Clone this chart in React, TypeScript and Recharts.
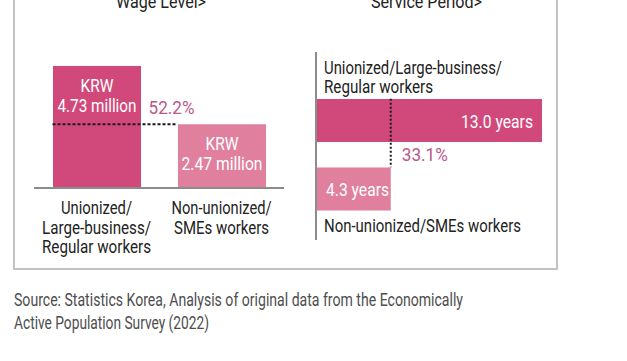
import React from 'react';
import { BarChart, Bar, XAxis, YAxis, Cell, ReferenceLine } from 'recharts';

// ---------- data ----------
const wageCategories = ['Unionized/Large-business/Regular workers', 'Non-unionized/SMEs workers'];
const wageValues = [4.73, 2.47];
const wageValueLines = [['KRW', '4.73 million'], ['KRW', '2.47 million']];
const wageTickLines = [['Unionized/', 'Large-business/', 'Regular workers'], ['Non-unionized/', 'SMEs workers']];
const wageRatioLabel = '52.2%';

const tenureCategories = ['Unionized/Large-business/Regular workers', 'Non-unionized/SMEs workers'];
const tenureValues = [13.0, 4.3];
const tenureValueLabels = ['13.0 years', '4.3 years'];
const tenureNameLines = [['Unionized/Large-business/', 'Regular workers'], ['Non-unionized/SMEs workers']];
const tenureRatioLabel = '33.1%';

const panelTitles = ['Wage Level>', 'Service Period>'];
const sourceLines = [
  'Source: Statistics Korea, Analysis of original data from the Economically',
  'Active Population Survey (2022)',
];

// ---------- style ----------
const BAR_COLORS = ['#d1497a', '#e07f9e'];
const RATIO_COLOR = '#bb578a';
const TEXT_COLOR = '#222';
const FONT = 'Roboto, "Noto Sans", sans-serif';
const WIDTHS: Record<string, number> = {
  'Wage Level>': 90,
  'Service Period>': 111,
  KRW: 33,
  '4.73 million': 79,
  '2.47 million': 81,
  '52.2%': 46,
  'Unionized/': 71,
  'Large-business/': 109,
  'Regular workers': 109,
  'Non-unionized/': 100,
  'SMEs workers': 95,
  'Unionized/Large-business/': 178,
  '13.0 years': 72,
  '33.1%': 46,
  '4.3 years': 63,
  'Non-unionized/SMEs workers': 197,
  [sourceLines[0]]: 449,
  [sourceLines[1]]: 195,
};

const T = ({ x, y, text, size = 18, fill = TEXT_COLOR, anchor = 'start' }: any) => (
  <text
    x={x}
    y={y}
    fontSize={size}
    fontFamily={FONT}
    fill={fill}
    textAnchor={anchor}
    textLength={WIDTHS[text]}
    lengthAdjust="spacingAndGlyphs"
  >
    {text}
  </text>
);

const wageData = wageCategories.map((name, i) => ({ name, value: wageValues[i] }));
const tenureData = tenureCategories.map((name, i) => ({ name, value: tenureValues[i] }));

const WAGE_BAR = 88;
const TENURE_BAR = 43;

const WageShape = (p: any) => {
  const { x, y, width, height, index } = p;
  const cx = x + width / 2;
  const lines = wageValueLines[index];
  return (
    <g>
      <rect x={x} y={y} width={width} height={height} fill={BAR_COLORS[index]} />
      <T x={cx} y={y + 26} text={lines[0]} size={17.5} fill="#fff" anchor="middle" />
      <T x={cx} y={y + 46} text={lines[1]} size={17.5} fill="#fff" anchor="middle" />
    </g>
  );
};

const WageTick = (p: any) => {
  const { x, y, index } = p;
  const lines = wageTickLines[index] || [];
  return (
    <g>
      {lines.map((l, i) => (
        <T key={i} x={x} y={y + 24 + i * 19.7} text={l} size={18} anchor="middle" />
      ))}
    </g>
  );
};

const WageRatioLine = (p: any) => {
  const { x1, y1, x2 } = p;
  const half = WAGE_BAR / 2;
  return (
    <g>
      <line x1={x1 - half} y1={y1} x2={x2 - half} y2={y1} stroke="#1a1a1a" strokeWidth={2} strokeDasharray="3 2" />
      <T x={x1 + half + 8} y={y1 - 10} text={wageRatioLabel} size={17.5} fill={RATIO_COLOR} />
    </g>
  );
};

const TenureShape = (p: any) => {
  const { x, y, width, height, index } = p;
  const cy = y + height / 2;
  const names = tenureNameLines[index];
  return (
    <g>
      <rect x={x} y={y} width={width} height={height} fill={BAR_COLORS[index]} />
      {index === 0 ? (
        <>
          <T x={x + 8} y={y - 25} text={names[0]} size={18} />
          <T x={x + 8} y={y - 6} text={names[1]} size={18} />
          <T x={x + width - 9} y={cy + 7} text={tenureValueLabels[index]} size={18} fill="#fff" anchor="end" />
        </>
      ) : (
        <>
          <T x={x + 10} y={cy + 7} text={tenureValueLabels[index]} size={18} fill="#fff" />
          <T x={x + 8} y={y + height + 21} text={names[0]} size={18} />
        </>
      )}
    </g>
  );
};

const TenureRatioLine = (p: any) => {
  const { x1, y1, y2 } = p;
  const half = TENURE_BAR / 2;
  return (
    <g>
      <line x1={x1} y1={y1 - half} x2={x1} y2={y2 - half} stroke="#1a1a1a" strokeWidth={2} strokeDasharray="2 2" />
      <T x={x1 + 11} y={y2 - half - 6} text={tenureRatioLabel} size={17.5} fill={RATIO_COLOR} />
    </g>
  );
};

export default function App() {
  return (
    <div
      style={{
        position: 'absolute',
        left: 0,
        top: 0,
        width: 627,
        height: 361,
        background: '#fff',
        overflow: 'hidden',
      }}
    >
      <div
        style={{
          position: 'absolute',
          left: 13,
          top: -10,
          width: 541,
          height: 276,
          border: '2px solid #c2c2c2',
        }}
      />
      <svg width={627} height={361} style={{ position: 'absolute', left: 0, top: 0 }}>
        <T x={161} y={8} text={panelTitles[0]} size={18} anchor="middle" />
        <T x={426.5} y={8} text={panelTitles[1]} size={18} anchor="middle" />
        <T x={14} y={305.5} text={sourceLines[0]} size={18.5} fill="#4d4d4d" />
        <T x={14} y={328.5} text={sourceLines[1]} size={18.5} fill="#4d4d4d" />
      </svg>

      <div style={{ position: 'absolute', left: 0, top: 0 }}>
        <BarChart width={300} height={270} data={wageData} margin={{ top: 59, right: 16, left: 34, bottom: 22 }}>
          <XAxis
            dataKey="name"
            height={60}
            tickLine={false}
            tickSize={0}
            axisLine={{ stroke: '#8c8c8c', strokeWidth: 2 }}
            tick={<WageTick />}
            interval={0}
          />
          <YAxis hide domain={[0, 5]} />
          <Bar dataKey="value" barSize={WAGE_BAR} isAnimationActive={false} shape={<WageShape />}>
            {wageData.map((d, i) => (
              <Cell key={d.name} fill={BAR_COLORS[i]} />
            ))}
          </Bar>
          <ReferenceLine
            segment={[
              { x: wageCategories[0], y: wageValues[1] },
              { x: wageCategories[1], y: wageValues[1] },
            ]}
            ifOverflow="visible"
            shape={<WageRatioLine />}
          />
        </BarChart>
      </div>

      <div style={{ position: 'absolute', left: 300, top: 0 }}>
        <BarChart
          width={260}
          height={270}
          data={tenureData}
          layout="vertical"
          margin={{ top: 52, right: 18, left: 15, bottom: 30 }}
        >
          <XAxis type="number" hide domain={[0, 13]} />
          <YAxis
            type="category"
            dataKey="name"
            width={1}
            tick={false}
            tickLine={false}
            axisLine={{ stroke: '#8c8c8c', strokeWidth: 2 }}
            padding={{ top: 34, bottom: 17 }}
          />
          <Bar dataKey="value" barSize={TENURE_BAR} isAnimationActive={false} shape={<TenureShape />}>
            {tenureData.map((d, i) => (
              <Cell key={d.name} fill={BAR_COLORS[i]} />
            ))}
          </Bar>
          <ReferenceLine
            segment={[
              { x: tenureValues[1], y: tenureCategories[0] },
              { x: tenureValues[1], y: tenureCategories[1] },
            ]}
            ifOverflow="visible"
            shape={<TenureRatioLine />}
          />
        </BarChart>
      </div>
    </div>
  );
}
